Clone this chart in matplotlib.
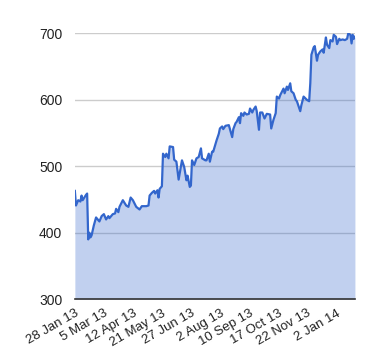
import matplotlib.pyplot as plt

# trading-day index and closing value
days = [0, 1, 3, 5, 6, 7, 10, 11, 12, 13, 14, 15, 17, 19, 22, 24, 26, 28, 30, 31,
        34, 36, 37, 39, 40, 43, 46, 48, 50, 52, 55, 58, 60, 64, 66, 67, 69, 71, 72, 74,
        75, 76, 78, 79, 81, 82, 84, 85, 88, 89, 91, 93, 96, 98, 100, 101, 103, 104, 105, 107,
        109, 111, 113, 114, 117, 118, 120, 121, 123, 124, 127, 129, 130, 132, 133, 135, 138, 139, 141, 142,
        144, 145, 147, 148, 149, 151, 152, 154, 156, 157, 159, 160, 162, 163, 165, 166, 168, 170, 172, 175,
        176, 178, 180, 181, 183, 184, 187, 188, 190, 191, 193, 194, 196, 198, 199, 202, 203, 205, 208, 210,
        211, 212, 214, 215, 217, 218, 220, 222, 223, 225, 226, 228, 229, 231, 232, 234, 235, 237, 238, 240,
        242, 244, 245, 247, 248, 249, 250, 251]
values = [463, 441, 449, 447, 456, 449, 457, 459, 390, 400, 393, 396, 411, 423, 417, 425, 428, 420, 425, 422,
          428, 429, 436, 431, 439, 449, 441, 439, 453, 449, 439, 435, 440, 440, 441, 456, 460, 463, 459, 464,
          453, 466, 470, 519, 514, 519, 512, 530, 529, 510, 507, 480, 509, 499, 479, 486, 469, 471, 509, 502,
          512, 514, 527, 512, 509, 509, 519, 507, 522, 522, 539, 549, 557, 560, 556, 561, 562, 556, 544, 556,
          565, 567, 574, 565, 580, 576, 581, 578, 579, 587, 581, 585, 590, 583, 555, 581, 581, 572, 579, 578,
          557, 570, 580, 605, 602, 607, 617, 610, 620, 615, 625, 613, 610, 600, 598, 583, 592, 605, 600, 598,
          625, 668, 679, 681, 659, 668, 673, 676, 671, 694, 683, 678, 690, 688, 698, 695, 684, 692, 690, 691,
          690, 692, 700, 698, 685, 698, 692, 695]

tick_days = [0, 26, 52, 78, 104, 130, 156, 182, 208, 234]
tick_labels = ["28 Jan 13", "5 Mar 13", "12 Apr 13", "21 May 13", "27 Jun 13",
               "2 Aug 13", "10 Sep 13", "17 Oct 13", "22 Nov 13", "2 Jan 14"]
y_ticks = [300, 400, 500, 600, 700]

plt.rcParams['font.family'] = ['Liberation Sans', 'DejaVu Sans']

fig = plt.figure(figsize=(3.8, 3.6), dpi=100)
ax = fig.add_axes([0.197, 0.169, 0.737, 0.738])

ax.fill_between(days, values, 300, color="#3366cc", alpha=0.3, linewidth=0)
ax.plot(days, values, color="#3366cc", linewidth=1.6, solid_joinstyle='round')

ax.set_xlim(0, 251)
ax.set_ylim(300, 700)
ax.set_yticks(y_ticks)
ax.set_xticks(tick_days)
ax.set_xticklabels(tick_labels, rotation=30, ha='right', rotation_mode='anchor')

ax.set_axisbelow(True)
ax.yaxis.grid(True, color="#cccccc", linewidth=1)
for s in ["top", "right", "left"]:
    ax.spines[s].set_visible(False)
ax.spines["bottom"].set_color("#333333")
ax.spines["bottom"].set_linewidth(1.2)
ax.spines["bottom"].set_zorder(5)

ax.tick_params(axis='y', length=0, pad=9, labelsize=10, labelcolor="#222222")
ax.tick_params(axis='x', length=0, pad=6, labelsize=9.5, labelcolor="#222222")

fig.savefig("out.png", dpi=100)
